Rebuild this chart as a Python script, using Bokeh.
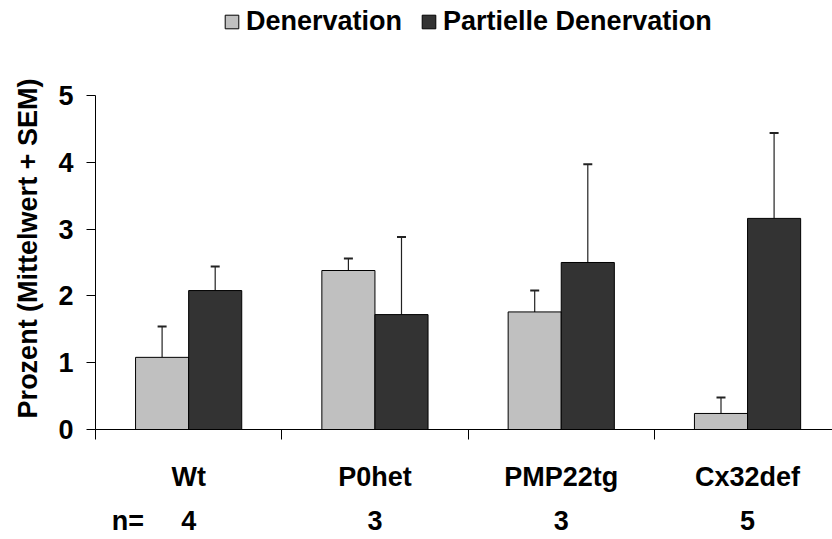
from bokeh.plotting import figure
from bokeh.layouts import column
from bokeh.models import (Range1d, FixedTicker, Legend, LegendItem, Whisker,
                          ColumnDataSource, TeeHead, LinearAxis)
from bokeh.embed import file_html
from bokeh.resources import INLINE

# ---- data ----
categories = ["Wt", "P0het", "PMP22tg", "Cx32def"]
n_values = ["4", "3", "3", "5"]
n_prefix = "n="
series_names = ["Denervation", "Partielle Denervation"]
denervation = [1.08, 2.38, 1.76, 0.24]
denervation_sem = [0.46, 0.18, 0.32, 0.24]
partielle = [2.08, 1.72, 2.50, 3.16]
partielle_sem = [0.36, 1.16, 1.47, 1.28]
y_ticks = [0, 1, 2, 3, 4, 5]
y_label = "Prozent (Mittelwert + SEM)"

# ---- style ----
FONT = "Liberation Sans"
FS = "27px"
LIGHT = "#c0c0c0"
DARK = "#333333"
BAR_W = 0.285
Y_MAX = 5
W = 832
TOP_H = 67
MAIN_H = 539 - TOP_H

centers = [i + 0.5 for i in range(len(categories))]
x_light = [c - BAR_W / 2 for c in centers]
x_dark = [c + BAR_W / 2 for c in centers]

src_l = ColumnDataSource(dict(x=x_light, top=denervation,
                              upper=[v + e for v, e in zip(denervation, denervation_sem)]))
src_d = ColumnDataSource(dict(x=x_dark, top=partielle,
                              upper=[v + e for v, e in zip(partielle, partielle_sem)]))

# ---------- legend strip (same series, data kept outside its visible range) ----------
pl = figure(width=W, height=TOP_H, output_backend="svg", toolbar_location=None,
            x_axis_type=None, y_axis_type=None, x_range=Range1d(0, 3.956),
            y_range=Range1d(100, 101), min_border=0)
pl.outline_line_color = None
pl.grid.grid_line_color = None
dl = pl.vbar(x="x", top="top", width=BAR_W, source=src_l, fill_color=LIGHT,
             line_color="black", line_width=1)
dd = pl.vbar(x="x", top="top", width=BAR_W, source=src_d, fill_color=DARK,
             line_color="black", line_width=1)
legend = Legend(items=[LegendItem(label=series_names[0], renderers=[dl], index=0),
                       LegendItem(label=series_names[1], renderers=[dd], index=0)],
                orientation="horizontal", location=(128, 30),
                padding=0, margin=0, spacing=18, glyph_width=17, glyph_height=17,
                label_standoff=6, border_line_color=None, background_fill_alpha=0,
                label_text_font=FONT, label_text_font_size=FS,
                label_text_font_style="bold", label_text_color="black")
pl.add_layout(legend)

# ---------- main chart ----------
p = figure(width=W, height=MAIN_H, output_backend="svg", toolbar_location=None,
           x_range=Range1d(0, 3.956), y_range=Range1d(0, 5.419),
           min_border_left=95, min_border_right=0, min_border_top=0,
           min_border_bottom=110)
p.outline_line_color = None
p.grid.grid_line_color = None

p.vbar(x="x", top="top", width=BAR_W, source=src_l, fill_color=LIGHT,
       line_color="black", line_width=1)
p.vbar(x="x", top="top", width=BAR_W, source=src_d, fill_color=DARK,
       line_color="black", line_width=1)

for src in (src_l, src_d):
    w = Whisker(source=src, base="x", lower="top", upper="upper", dimension="height",
                line_color="#222222", line_width=1.2,
                upper_head=TeeHead(size=9, line_width=2, line_color="#222222"),
                lower_head=None)
    p.add_layout(w)

# y axis
yax = p.yaxis[0]
yax.ticker = FixedTicker(ticks=y_ticks)
yax.bounds = (0, Y_MAX)
yax.axis_line_color = "black"
yax.major_tick_out = 9
yax.major_tick_in = 0
yax.minor_tick_line_color = None
yax.major_tick_line_color = "black"
yax.major_label_text_font = FONT
yax.major_label_text_font_size = FS
yax.major_label_text_font_style = "bold"
yax.major_label_text_color = "black"
yax.major_label_standoff = 13
yax.axis_label = y_label
yax.axis_label_text_font = FONT
yax.axis_label_text_font_size = FS
yax.axis_label_text_font_style = "bold"
yax.axis_label_text_color = "black"
yax.axis_label_standoff = 12

# x axis: boundary ticks (minor) + category labels (major)
xax = p.xaxis[0]
xax.ticker = FixedTicker(ticks=centers, minor_ticks=list(range(len(categories) + 1)))
xax.major_label_overrides = {c: name for c, name in zip(centers, categories)}
xax.axis_line_color = "black"
xax.major_tick_out = 0
xax.major_tick_in = 0
xax.major_tick_line_color = None
xax.minor_tick_out = 10
xax.minor_tick_in = 0
xax.minor_tick_line_color = "black"
xax.major_label_text_font = FONT
xax.major_label_text_font_size = FS
xax.major_label_text_font_style = "bold"
xax.major_label_text_color = "black"
xax.major_label_standoff = 22

# n row as a second, line-less axis below
n_pos = 0.174
nax = LinearAxis(ticker=FixedTicker(ticks=[n_pos] + centers, minor_ticks=[]),
                 major_label_overrides={**{n_pos: n_prefix},
                                        **{c: v for c, v in zip(centers, n_values)}},
                 axis_line_color=None, major_tick_line_color=None,
                 minor_tick_line_color=None, major_tick_out=0, major_tick_in=0,
                 major_label_standoff=11, major_label_text_font=FONT,
                 major_label_text_font_size=FS, major_label_text_font_style="bold",
                 major_label_text_color="black")
p.add_layout(nax, "below")

layout = column(pl, p, spacing=0)
open("out.html", "w").write(file_html(layout, INLINE))
